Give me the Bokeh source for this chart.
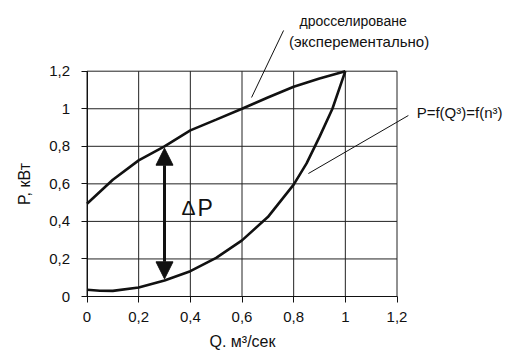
from bokeh.plotting import figure
from bokeh.models import Range1d, FixedTicker, Label, Arrow, NormalHead, ColumnDataSource
from bokeh.embed import file_html
from bokeh.resources import INLINE

# ---- data ----
tick_values = [0, 0.2, 0.4, 0.6, 0.8, 1.0, 1.2]
tick_labels = ["0", "0,2", "0,4", "0,6", "0,8", "1", "1,2"]

q_throttle = [0, 0.1, 0.2, 0.3, 0.4, 0.5, 0.6, 0.7, 0.8, 0.9, 1.0]
p_throttle = [0.494, 0.622, 0.725, 0.80, 0.885, 0.942, 1.0, 1.06, 1.117, 1.161, 1.2]

q_cube = [0, 0.05, 0.1, 0.2, 0.3, 0.4, 0.5, 0.6, 0.7, 0.8, 0.85, 0.9, 0.95, 1.0]
p_cube = [0.036, 0.031, 0.03, 0.048, 0.085, 0.135, 0.206, 0.299, 0.423, 0.596, 0.709, 0.85, 1.0, 1.2]

delta_q = 0.3
delta_top = 0.79
delta_bottom = 0.094

x_title = "Q. м³/сек"
y_title = "P, кВт"
label_throttle_1 = "дросселироване"
label_throttle_2 = "(эксперементально)"
label_cube = "P=f(Q³)=f(n³)"

FONT = "Liberation Sans"
INK = "#111111"
GRID = "#222222"

# ---- layout: frame covers the whole canvas, axes pinned at 0 ----
W, H = 505, 354
X0_PX, X1_PX = 86.5, 396.5      # pixel of x=0 and x=1.2
Y0_PX, Y1_PX = 296.0, 70.7      # pixel of y=0 and y=1.2
sx = (X1_PX - X0_PX) / 1.2
sy = (Y0_PX - Y1_PX) / 1.2

p = figure(width=W, height=H, output_backend="svg", toolbar_location=None,
           x_range=Range1d(-X0_PX / sx, (W - X0_PX) / sx),
           y_range=Range1d(-(H - Y0_PX) / sy, Y0_PX / sy),
           min_border=0)
p.outline_line_color = None
p.background_fill_color = "white"
p.border_fill_color = "white"
p.xgrid.visible = False
p.ygrid.visible = False

lo, hi = tick_values[0], tick_values[-1]

# grid lines from the tick values, limited to the 0..1.2 box
vgrid = ColumnDataSource(dict(x0=tick_values, x1=tick_values,
                              y0=[lo] * len(tick_values), y1=[hi] * len(tick_values)))
hgrid = ColumnDataSource(dict(y0=tick_values, y1=tick_values,
                              x0=[lo] * len(tick_values), x1=[hi] * len(tick_values)))
p.segment(x0="x0", y0="y0", x1="x1", y1="y1", source=vgrid, line_color=GRID, line_width=1)
p.segment(x0="x0", y0="y0", x1="x1", y1="y1", source=hgrid, line_color=GRID, line_width=1)

for ax in (p.xaxis[0], p.yaxis[0]):
    ax.fixed_location = 0
    ax.bounds = (lo, hi)
    ax.ticker = FixedTicker(ticks=tick_values)
    ax.major_label_overrides = {v: s for v, s in zip(tick_values, tick_labels)}
    ax.major_label_text_font = FONT
    ax.major_label_text_font_size = "15px"
    ax.major_label_text_color = INK
    ax.axis_line_color = INK
    ax.major_tick_line_color = INK
    ax.major_tick_out = 6
    ax.major_tick_in = 0
    ax.minor_tick_line_color = None
    ax.axis_label_text_font = FONT
    ax.axis_label_text_font_style = "normal"
    ax.axis_label_text_font_size = "16px"
    ax.axis_label_text_color = INK

p.xaxis.axis_label = x_title
p.yaxis.axis_label = y_title
p.xaxis.major_label_standoff = 9
p.yaxis.major_label_standoff = 11
p.xaxis.axis_label_standoff = 8
p.yaxis.axis_label_standoff = 14

p.line(q_throttle, p_throttle, line_color=INK, line_width=2.6)
p.line(q_cube, p_cube, line_color=INK, line_width=2.6)

# double-headed arrow ΔP
p.add_layout(Arrow(x_start=delta_q, y_start=delta_bottom, x_end=delta_q, y_end=delta_top,
                   line_width=3, line_color=INK,
                   start=NormalHead(size=17, fill_color=INK, line_color=INK, line_width=1),
                   end=NormalHead(size=17, fill_color=INK, line_color=INK, line_width=1)))

p.add_layout(Label(x=0.393, y=0.474, text="Δ", text_font=FONT, text_font_size="21px",
                   text_align="center", text_baseline="middle", text_color=INK))
p.add_layout(Label(x=0.428, y=0.474, text="P", text_font=FONT, text_font_size="23px",
                   text_align="left", text_baseline="middle", text_color=INK))

# leader lines
lead = ColumnDataSource(dict(x0=[0.761, 1.244], y0=[1.417, 0.964],
                             x1=[0.637, 0.857], y1=[1.060, 0.655]))
p.segment(x0="x0", y0="y0", x1="x1", y1="y1", source=lead, line_color=INK, line_width=1)

p.add_layout(Label(x=1.030, y=1.465, text=label_throttle_1, text_font=FONT, text_font_size="14px",
                   text_align="center", text_baseline="middle", text_color=INK))
p.add_layout(Label(x=1.053, y=1.356, text=label_throttle_2, text_font=FONT, text_font_size="15px",
                   text_align="center", text_baseline="middle", text_color=INK))
p.add_layout(Label(x=1.276, y=0.980, text=label_cube, text_font=FONT, text_font_size="15px",
                   text_align="left", text_baseline="middle", text_color=INK))

open("out.html", "w").write(file_html(p, INLINE))
